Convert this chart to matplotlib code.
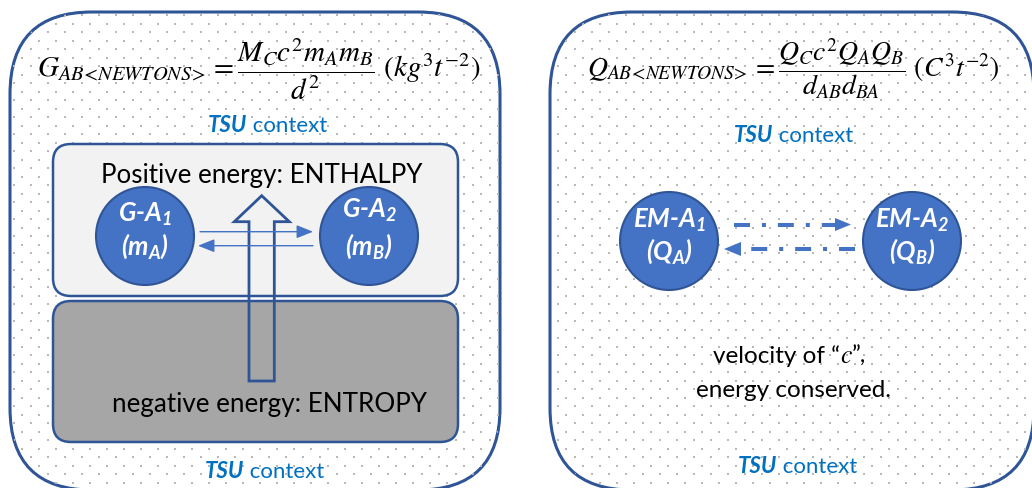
import numpy as np
import matplotlib
matplotlib.use('Agg')
import matplotlib.pyplot as plt
from matplotlib.patches import FancyBboxPatch, Circle, Polygon

plt.rcParams['mathtext.fontset'] = 'custom'
plt.rcParams['mathtext.rm'] = 'Lato:italic:bold'
plt.rcParams['mathtext.it'] = 'Lato:italic:bold'
plt.rcParams['mathtext.bf'] = 'Lato:italic:bold'
plt.rcParams['lines.scale_dashes'] = False

# text content
formula_left = r'$G_{AB\!<\!NEWTONS\!>} = \dfrac{M_C c^2 m_A m_B}{d^2}\ (kg^3t^{-2})$'
formula_right = r'$Q_{AB\!<\!NEWTONS\!>} = \dfrac{Q_C c^2 Q_A Q_B}{d_{AB} d_{BA}}\ (C^3t^{-2})$'
circle_names = ['G-$A_1$', 'G-$A_2$', 'EM-$A_1$', 'EM-$A_2$']
circle_vars = ['($m_A$)', '($m_B$)', '($Q_A$)', '($Q_B$)']
top_label = 'Positive energy: ENTHALPY'
bottom_label = 'negative energy: ENTROPY'
note_lines = ['velocity of \u201c', 'c', '\u201d,', 'energy conserved.']

# layout (pixels, y down)
circle_x = [145, 369, 669, 912]
circle_y = [237, 237, 242, 242]
circle_r = 49
name_y = [221.5, 218, 228, 228]
var_y = [255, 255, 260, 260]
tsu_pos = [(208, 132), (205, 478), (734, 142.5), (738, 473)]

BLUE = '#4472C4'
DARK = '#2F5597'
TSU_BLUE = '#0070C0'

fig = plt.figure(figsize=(10.32, 4.89), dpi=100)
ax = fig.add_axes([0, 0, 1, 1])
ax.set_xlim(0, 1032)
ax.set_ylim(489, 0)
ax.axis('off')

# outer rounded panels with dotted fill
panels = []
for x0, w in [(10, 490), (550, 484)]:
    p = FancyBboxPatch((x0, 13), w, 478, boxstyle='round,pad=0,rounding_size=82',
                       fc='white', ec=DARK, lw=2.2, zorder=1)
    ax.add_patch(p)
    panels.append(p)

dx, dy = [], []
for k, y in enumerate(np.arange(7.5, 500, 8.5)):
    xs = np.arange(5.2 if k % 2 == 0 else 13.7, 1040, 17)
    dx.extend(xs)
    dy.extend([y] * len(xs))
for p in panels:
    sc = ax.scatter(dx, dy, s=2.5, marker='s', c='#B8B8B8', linewidths=0, zorder=1.5)
    sc.set_clip_path(p)

# inner boxes on the left
ax.add_patch(FancyBboxPatch((53, 145), 405, 152, boxstyle='round,pad=0,rounding_size=18',
                            fc='#F2F2F2', ec=DARK, lw=1.8, zorder=2))
ax.add_patch(FancyBboxPatch((53, 302), 405, 141, boxstyle='round,pad=0,rounding_size=18',
                            fc='#A6A6A6', ec=DARK, lw=1.8, zorder=2))

# hollow up arrow
ax.add_patch(Polygon([(249, 382), (249, 222.7), (234.3, 222.7), (261.7, 196.7),
                      (289.3, 222.7), (274.3, 222.7), (274.3, 382)],
                     closed=True, fill=False, ec=DARK, lw=2, zorder=3))

# circles and labels
for i in range(4):
    ax.add_patch(Circle((circle_x[i], circle_y[i]), circle_r, fc=BLUE, ec=DARK, lw=1.5, zorder=4))
    for lab, yy in [(circle_names[i], name_y[i]), (circle_vars[i], var_y[i])]:
        ax.text(circle_x[i], yy, lab, color='white', fontsize=18.5, family='Lato',
                fontweight='bold', style='italic', ha='center', va='baseline', zorder=5)

# thin arrows between gravity atoms
thin = dict(arrowstyle='-|>,head_length=0.5,head_width=0.2', color=BLUE, lw=1,
            mutation_scale=20, shrinkA=0, shrinkB=0)
ax.annotate('', xy=(313, 232.7), xytext=(200, 232.7), arrowprops=thin, zorder=5)
ax.annotate('', xy=(198, 246.7), xytext=(313, 246.7), arrowprops=thin, zorder=5)

# dash-dot arrows between EM atoms
dd = (11.5, 8.6, 2.9, 8.6)
ax.plot([734, 836], [225.5, 225.5], color=BLUE, lw=2.9, dashes=dd, dash_capstyle='butt', zorder=5)
ax.add_patch(Polygon([(835, 219), (835, 232), (851, 225.5)], closed=True, fc=BLUE, ec='none', zorder=5))
ax.plot([855, 740], [250, 250], color=BLUE, lw=2.9, dashes=dd, dash_capstyle='butt', zorder=5)
ax.add_patch(Polygon([(741, 243), (741, 257), (724, 250)], closed=True, fc=BLUE, ec='none', zorder=5))

# formulas
ax.text(258.5, 78, formula_left, math_fontfamily='stix', fontsize=21,
        ha='center', va='baseline', zorder=5)
ax.text(793.5, 76.7, formula_right, math_fontfamily='stix', fontsize=20,
        ha='center', va='baseline', zorder=5)

# TSU context labels
for x, y in tsu_pos:
    t = ax.text(x, y, 'TSU', family='Lato', fontweight='bold', style='italic',
                color=TSU_BLUE, fontsize=16, ha='left', va='baseline', zorder=5)
    ax.annotate(' context', xy=(1, y), xycoords=(t, 'data'), family='Lato',
                color=TSU_BLUE, fontsize=16, ha='left', va='baseline', zorder=5)

# energy labels
ax.text(262, 183.3, top_label, family='Lato', fontsize=18.7, ha='center', va='baseline', zorder=5)
ax.text(270, 411.7, bottom_label, family='Lato', fontsize=18.7, ha='center', va='baseline', zorder=5)

# note on the right
t1 = ax.text(713, 363, note_lines[0], family='Lato', fontsize=17.5, ha='left', va='baseline', zorder=5)
t2 = ax.annotate(note_lines[1], xy=(1, 363), xycoords=(t1, 'data'), fontsize=18.5,
                 family='STIXGeneral', style='italic', ha='left', va='baseline', zorder=5)
ax.annotate(note_lines[2], xy=(1, 363), xycoords=(t2, 'data'), family='Lato', fontsize=17.5,
            ha='left', va='baseline', zorder=5)
ax.text(793, 397, note_lines[3], family='Lato', fontsize=17.5, ha='center', va='baseline', zorder=5)

fig.savefig('out.png', dpi=100)
